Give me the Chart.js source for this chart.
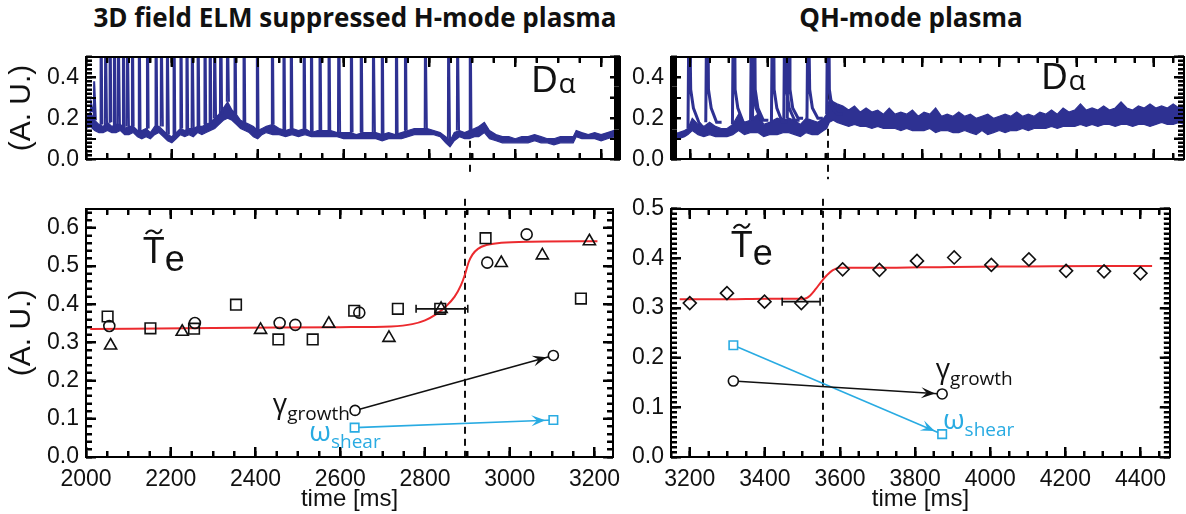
<!DOCTYPE html>
<html lang="en">
<head>
<meta charset="UTF-8">
<title>Te fluctuations and D-alpha, ELM suppressed vs QH-mode</title>
<script src="https://cdn.jsdelivr.net/npm/chart.js"></script>
<style>
    body {
        margin: 0;
        width: 1186px;
        height: 514px;
        position: relative;
        overflow: hidden;
        background: #fff;
    }
    canvas { position: absolute; }
    .title {
        position: absolute;
        top: -1px;
        font-family: "Open Sans", sans-serif;
        font-weight: 700;
        font-size: 26px;
        color: #111;
        white-space: nowrap;
        transform: translateX(-50%);
    }
</style>
</head>
<body>

<div class="title" style="left:355px">3D field ELM suppressed H-mode plasma</div>
<div class="title" style="left:911px">QH-mode plasma</div>

<canvas id="tl" width="640" height="164" style="left:0;top:26px"></canvas>
<canvas id="tr" width="562" height="164" style="left:624px;top:26px"></canvas>
<canvas id="bl" width="640" height="336" style="left:0;top:178px"></canvas>
<canvas id="br" width="562" height="336" style="left:624px;top:178px"></canvas>

<script>
// ---------- D-alpha, 3D field ELM suppressed shot ----------
const daLeftTime = [2000, 2010, 2020, 2030, 2040, 2050, 2060, 2070, 2080, 2090, 2100, 2110, 2120, 2130, 2140, 2150,
    2160, 2170, 2180, 2190, 2200, 2210, 2220, 2230, 2240, 2250, 2260, 2270, 2280, 2290, 2300, 2310, 2320, 2330,
    2340, 2350, 2360, 2370, 2380, 2390, 2400, 2410, 2420, 2435, 2450, 2465, 2480, 2495, 2510, 2525, 2540, 2555,
    2570, 2585, 2600, 2615, 2630, 2645, 2660, 2675, 2690, 2705, 2720, 2735, 2750, 2765, 2780, 2795, 2810, 2825,
    2838, 2848, 2858, 2870, 2882, 2893, 2905, 2915, 2928, 2940, 2955, 2970, 2985, 3000, 3015, 3030, 3045, 3060,
    3075, 3090, 3105, 3120, 3135, 3142, 3155, 3170, 3185, 3200, 3215, 3230, 3245];
const daLeftLow = [0.15, 0.16, 0.14, 0.13, 0.13, 0.14, 0.13, 0.13, 0.14, 0.12, 0.12, 0.13, 0.11, 0.10, 0.11, 0.10,
    0.12, 0.13, 0.11, 0.09, 0.08, 0.10, 0.12, 0.11, 0.12, 0.11, 0.13, 0.12, 0.13, 0.14, 0.15, 0.17, 0.19, 0.20,
    0.19, 0.17, 0.15, 0.14, 0.13, 0.11, 0.10, 0.12, 0.13, 0.12, 0.12, 0.11, 0.12, 0.11, 0.12, 0.11, 0.11, 0.11,
    0.11, 0.11, 0.10, 0.10, 0.10, 0.10, 0.10, 0.10, 0.09, 0.10, 0.10, 0.10, 0.11, 0.12, 0.12, 0.12, 0.12, 0.11,
    0.08, 0.06, 0.09, 0.11, 0.10, 0.10, 0.11, 0.11, 0.13, 0.10, 0.09, 0.08, 0.08, 0.08, 0.08, 0.08, 0.09, 0.08,
    0.08, 0.07, 0.08, 0.08, 0.08, 0.11, 0.10, 0.10, 0.10, 0.09, 0.10, 0.11, 0.10];
const daLeftHigh = [0.20, 0.23, 0.19, 0.17, 0.16, 0.18, 0.16, 0.17, 0.17, 0.15, 0.16, 0.16, 0.14, 0.14, 0.15, 0.13,
    0.16, 0.16, 0.14, 0.12, 0.11, 0.13, 0.15, 0.14, 0.15, 0.15, 0.16, 0.16, 0.17, 0.18, 0.20, 0.22, 0.25, 0.28,
    0.24, 0.22, 0.19, 0.18, 0.17, 0.16, 0.14, 0.15, 0.16, 0.17, 0.15, 0.14, 0.15, 0.14, 0.15, 0.13, 0.14, 0.14,
    0.14, 0.13, 0.13, 0.13, 0.12, 0.13, 0.13, 0.13, 0.12, 0.13, 0.12, 0.13, 0.14, 0.15, 0.15, 0.15, 0.14, 0.13,
    0.11, 0.09, 0.13, 0.14, 0.13, 0.14, 0.15, 0.16, 0.18, 0.14, 0.12, 0.11, 0.11, 0.10, 0.11, 0.11, 0.12, 0.11,
    0.10, 0.10, 0.11, 0.11, 0.11, 0.14, 0.13, 0.12, 0.13, 0.12, 0.13, 0.14, 0.12];
const daLeftElmTime = [2012, 2019, 2034, 2045, 2055, 2065, 2075, 2086, 2096, 2107, 2123, 2142, 2162, 2175, 2189,
    2204, 2220, 2234, 2247, 2260, 2276, 2288, 2299, 2313, 2329, 2346, 2367, 2398, 2433, 2460, 2477, 2507, 2524,
    2544, 2565, 2588, 2617, 2640, 2669, 2689, 2722, 2743, 2790, 2844, 2865, 2894];
const daLeftElmPeak = [0.27, 0.38, 0.9, 0.9, 0.9, 0.9, 0.9, 0.9, 0.9, 0.9, 0.9, 0.9, 0.9, 0.9, 0.9,
    0.9, 0.9, 0.9, 0.9, 0.9, 0.9, 0.9, 0.9, 0.9, 0.9, 0.9, 0.9, 0.9, 0.9, 0.9, 0.9, 0.9, 0.9,
    0.9, 0.9, 0.9, 0.9, 0.9, 0.9, 0.9, 0.9, 0.9, 0.9, 0.9, 0.9, 0.9];

// ---------- D-alpha, QH-mode shot ----------
const daRightTime = [3150, 3170, 3185, 3194, 3205, 3220, 3235, 3250, 3265, 3280, 3295, 3310, 3325, 3340, 3355,
    3375, 3390, 3405, 3425, 3440, 3455, 3470, 3485, 3500, 3515, 3530, 3545, 3553,
    3560, 3570, 3580, 3595, 3610, 3625, 3640, 3655, 3670, 3685, 3700, 3715, 3730, 3745, 3760, 3775, 3790, 3805,
    3820, 3835, 3850, 3865, 3880, 3895, 3910, 3925, 3940, 3955, 3970, 3985, 4000, 4015, 4030, 4045, 4060, 4075,
    4090, 4105, 4120, 4135, 4150, 4165, 4180, 4195, 4210, 4225, 4240, 4255, 4270, 4285, 4300, 4315, 4330, 4345,
    4360, 4375, 4390, 4405, 4420, 4435, 4450, 4465, 4478];
const daRightLow = [0.10, 0.10, 0.11, 0.12, 0.14, 0.12, 0.11, 0.12, 0.11, 0.11, 0.11, 0.12, 0.14, 0.12, 0.13,
    0.13, 0.11, 0.12, 0.12, 0.13, 0.13, 0.12, 0.11, 0.13, 0.12, 0.12, 0.14, 0.15,
    0.18, 0.19, 0.18, 0.17, 0.16, 0.17, 0.16, 0.16, 0.15, 0.16, 0.15, 0.15, 0.15, 0.14, 0.15, 0.14, 0.14, 0.14,
    0.15, 0.13, 0.14, 0.14, 0.13, 0.13, 0.14, 0.13, 0.12, 0.14, 0.12, 0.13, 0.14, 0.13, 0.14, 0.14, 0.15, 0.14,
    0.15, 0.15, 0.15, 0.16, 0.15, 0.16, 0.16, 0.16, 0.17, 0.16, 0.17, 0.16, 0.17, 0.17, 0.16, 0.17, 0.17, 0.16,
    0.17, 0.17, 0.16, 0.17, 0.18, 0.17, 0.17, 0.18, 0.17];
const daRightHigh = [0.12, 0.13, 0.14, 0.15, 0.20, 0.17, 0.16, 0.18, 0.16, 0.15, 0.15, 0.17, 0.22, 0.18, 0.19,
    0.22, 0.17, 0.18, 0.20, 0.19, 0.20, 0.19, 0.17, 0.20, 0.19, 0.18, 0.20, 0.22,
    0.30, 0.28, 0.27, 0.26, 0.24, 0.26, 0.23, 0.25, 0.23, 0.24, 0.22, 0.25, 0.22, 0.23, 0.22, 0.24, 0.21, 0.23,
    0.22, 0.25, 0.21, 0.22, 0.21, 0.23, 0.21, 0.22, 0.20, 0.21, 0.22, 0.20, 0.21, 0.22, 0.21, 0.23, 0.21, 0.22,
    0.21, 0.23, 0.22, 0.24, 0.22, 0.25, 0.23, 0.24, 0.27, 0.24, 0.25, 0.24, 0.26, 0.24, 0.25, 0.28, 0.25, 0.24,
    0.26, 0.25, 0.27, 0.25, 0.26, 0.25, 0.27, 0.25, 0.26];
const daRightElmTime = [3197, 3243, 3312, 3359, 3364, 3413, 3445, 3454, 3505, 3556];
// shape of one QH-phase ELM as read from the first one (ms after onset, level)
const qhElmDt = [-3, 0, 2, 4, 11, 25, 38];
const qhElmV = [0.15, 0.9, 0.9, 0.34, 0.25, 0.18, 0.15];

// ---------- Te fluctuation, ELM suppressed shot ----------
const teLeftSqT = [2051, 2152, 2255, 2354, 2454, 2535, 2633, 2736, 2836, 2943, 3168];
const teLeftSqV = [0.368, 0.337, 0.336, 0.399, 0.308, 0.308, 0.383, 0.388, 0.388, 0.573, 0.415];
const teLeftCircT = [2055, 2257, 2457, 2494, 2645, 2947, 3040];
const teLeftCircV = [0.343, 0.351, 0.351, 0.346, 0.378, 0.509, 0.583];
const teLeftTriT = [2058, 2227, 2412, 2573, 2715, 2838, 2980, 3077, 3188];
const teLeftTriV = [0.292, 0.328, 0.333, 0.349, 0.312, 0.388, 0.508, 0.528, 0.565];
const fitLeftT = [2010, 2300, 2600, 2720, 2770, 2800, 2825, 2850, 2870, 2885, 2895, 2903, 2912, 2925, 2945, 2980, 3050, 3207];
const fitLeftV = [0.335, 0.338, 0.340, 0.342, 0.348, 0.358, 0.373, 0.395, 0.420, 0.450, 0.480, 0.510, 0.530, 0.545, 0.555, 0.561, 0.564, 0.565];
const errLeftT = [2779, 2901];
const errLeftV = [0.388, 0.388];
const gammaLeftT = [2635, 3103];
const gammaLeftV = [0.122, 0.266];
const omegaLeftT = [2634, 3103];
const omegaLeftV = [0.077, 0.097];

// ---------- Te fluctuation, QH-mode shot ----------
const teRightT = [3200, 3299, 3399, 3497, 3607, 3705, 3805, 3904, 4003, 4103, 4202, 4303, 4400];
const teRightV = [0.310, 0.330, 0.313, 0.310, 0.378, 0.377, 0.395, 0.402, 0.387, 0.398, 0.375, 0.374, 0.370];
const fitRightT = [3173, 3300, 3400, 3505, 3520, 3535, 3550, 3565, 3580, 3600, 3700, 3900, 4100, 4300, 4431];
const fitRightV = [0.318, 0.318, 0.319, 0.319, 0.325, 0.338, 0.353, 0.366, 0.376, 0.381, 0.381, 0.383, 0.384, 0.385, 0.385];
const errRightT = [3446, 3547];
const errRightV = [0.313, 0.313];
const gammaRightT = [3316, 3872];
const gammaRightV = [0.153, 0.127];
const omegaRightT = [3316, 3872];
const omegaRightV = [0.225, 0.046];

const transitionLeft = 2895;
const transitionRight = 3556;

const NAVY = '#2e3192';
const RED = '#ec2a2e';
const CYAN = '#29abe2';

Chart.defaults.font.family = '"Liberation Sans", Arial, sans-serif';
Chart.defaults.font.size = 23;
Chart.defaults.color = '#111';

const pts = (ts, vs) => ts.map((t, i) => ({ x: t, y: vs[i] }));

function nearest(ts, t) {
    let best = 0;
    ts.forEach((v, i) => { if (Math.abs(v - t) < Math.abs(ts[best] - t)) best = i; });
    return best;
}

// left ELMs: narrow spikes sitting on the band
const leftElmPts = [];
daLeftElmTime.forEach((t, i) => {
    const base = daLeftHigh[nearest(daLeftTime, t)];
    const pk = daLeftElmPeak[i];
    leftElmPts.push({ x: t - 1, y: base }, { x: t, y: pk }, { x: t + 1.5, y: pk }, { x: t + 4, y: base }, { x: t + 4, y: null });
});

// QH-phase ELMs with their decaying tail
const rightElmPts = [];
daRightElmTime.forEach(t => {
    const base = daRightHigh[nearest(daRightTime, t)];
    qhElmDt.forEach((dt, k) => rightElmPts.push({ x: t + dt, y: Math.max(qhElmV[k], base) }));
    rightElmPts.push({ x: t + 40, y: null });
});

// box frame with inward major/minor ticks on all four sides
function drawFrame(chart, c) {
    const ctx = chart.ctx, a = chart.chartArea;
    const xs = chart.scales.x, ys = chart.scales.y;
    const L = Math.round(a.left), R = Math.round(a.right), T = Math.round(a.top), B = Math.round(a.bottom);
    ctx.save();
    ctx.fillStyle = '#000';
    [[200, 10], [50, 6]].forEach(([step, len]) => {
        for (let v = c.xMin - (c.xMin % step) + step; v < c.xMax; v += step) {
            const px = Math.round(xs.getPixelForValue(v));
            if (px - L < 3 || R - px < 3) continue;
            ctx.fillRect(px - 1, B - len, 2, len);
            ctx.fillRect(px - 1, T, 2, len);
        }
    });
    [[0.1, 10, 'l'], [0.1, 10, 'r'], [c.yMinorLeft, 6, 'l'], [c.yMinorRight, 6, 'r']].forEach(([step, len, side]) => {
        const n = Math.round(c.yMax / step);
        for (let k = 1; k <= n; k++) {
            const py = Math.round(ys.getPixelForValue(k * step));
            if (py - T < 2) continue;
            if (side === 'l') ctx.fillRect(L, py - 1, len, 2);
            else ctx.fillRect(R - len, py - 1, len, 2);
        }
    });
    ctx.fillRect(L - 1, T - 1, R - L + 2, 2);
    ctx.fillRect(L - 1, B - 1, R - L + 2, 2);
    ctx.fillRect(L - 1, T - 1, 2, B - T + 2);
    ctx.fillRect(R - 1, T - 1, 2, B - T + 2);
    ctx.restore();
}

function makeFrame(c) {
    return { id: 'frameTicks', afterDraw(chart) { drawFrame(chart, c); } };
}

// dashed transition line, arrow heads, text labels
function makeDeco(c) {
    return {
        id: 'deco',
        beforeDatasetsDraw(chart) {
            const ctx = chart.ctx, a = chart.chartArea;
            const px = Math.round(chart.scales.x.getPixelForValue(c.dashT));
            ctx.save();
            ctx.fillStyle = '#111';
            for (let yy = a.top - c.dashUp; yy < a.bottom + c.dashDown; yy += 12) {
                ctx.fillRect(px - 1, yy, 2, Math.min(7, a.bottom + c.dashDown - yy));
            }
            ctx.restore();
        },
        afterDatasetsDraw(chart) {
            const ctx = chart.ctx, x = chart.scales.x, y = chart.scales.y;
            ctx.save();
            chart.data.datasets.forEach((ds, i) => {
                if (!ds.arrow) return;
                const el = chart.getDatasetMeta(i).data;
                const p0 = el[0], p1 = el[el.length - 1];
                const ang = Math.atan2(p1.y - p0.y, p1.x - p0.x);
                const co = Math.cos(ang), si = Math.sin(ang);
                const tx = p1.x - co * (ds.pointRadius + 2), ty = p1.y - si * (ds.pointRadius + 2);
                const L = 14, W = 5.5;
                ctx.fillStyle = ds.borderColor;
                ctx.beginPath();
                ctx.moveTo(tx, ty);
                ctx.lineTo(tx - co * L - si * W, ty - si * L + co * W);
                ctx.lineTo(tx - co * L * 0.6, ty - si * L * 0.6);
                ctx.lineTo(tx - co * L + si * W, ty - si * L - co * W);
                ctx.closePath();
                ctx.fill();
            });

            c.labels.forEach(lb => {
                let px = x.getPixelForValue(lb.t);
                const py = y.getPixelForValue(lb.v);
                ctx.fillStyle = lb.color || '#111';
                ctx.textBaseline = 'alphabetic';
                ctx.textAlign = 'left';
                lb.parts.forEach((p, k) => {
                    ctx.font = p.font;
                    const w = ctx.measureText(p.s).width;
                    ctx.fillText(p.s, px + (p.dx || 0), py + (p.dy || 0));
                    if (lb.tilde && k === 0) {
                        const cx = px + w / 2, ty = py - 31;
                        ctx.save();
                        ctx.strokeStyle = lb.color || '#111';
                        ctx.lineWidth = 2;
                        ctx.beginPath();
                        ctx.moveTo(cx - 8, ty + 2);
                        ctx.bezierCurveTo(cx - 4, ty - 4, cx, ty - 1, cx + 1, ty);
                        ctx.bezierCurveTo(cx + 3, ty + 2, cx + 6, ty + 2, cx + 8, ty - 3);
                        ctx.stroke();
                        ctx.restore();
                    }
                    px += w + (p.dx || 0);
                });
            });
            ctx.restore();
            drawFrame(chart, c);
        }
    };
}

// hidden helper axes whose only job is to draw inward tick marks (negative tickLength)
function tickAxis(axis, position, min, max, step, len) {
    return {
        type: 'linear', axis, position, min, max, weight: 0,
        ticks: { display: false, stepSize: step, includeBounds: false, autoSkip: false },
        grid: { display: true, drawOnChartArea: false, drawTicks: true, tickLength: -len, tickWidth: 2, tickColor: '#000' },
        border: { display: false },
        afterFit: s => { if (axis === 'x') s.height = 0; else s.width = 0; }
    };
}

function makeScales(c) {
    const inward = { display: true, drawOnChartArea: false, drawTicks: true, tickLength: -10, tickWidth: 2, tickColor: '#000' };
    return {
        x: {
            type: 'linear', min: c.xMin, max: c.xMax, weight: 1,
            grid: inward, border: { display: false },
            ticks: { display: c.xLabels, stepSize: 200, padding: 19, maxRotation: 0, autoSkip: false, includeBounds: false, callback: v => String(v) },
            title: { display: c.xLabels, text: 'time [ms]', font: { size: 24, weight: 'normal' }, padding: { top: 0, bottom: 0 } },
            afterFit: s => { s.height = c.xH; }
        },
        y: {
            type: 'linear', min: 0, max: c.yMax, weight: 1,
            grid: inward, border: { display: false },
            ticks: { stepSize: 0.1, padding: 17, includeBounds: false, callback: v => v.toFixed(1) },
            title: { display: c.yTitle, text: '(A. U.)', font: { size: 30, weight: 'normal' }, padding: { top: 4, bottom: 0 } },
            afterFit: s => { s.width = c.yW; }
        },
        xMinorB: tickAxis('x', 'bottom', c.xMin, c.xMax, 50, 6),
        xMajorT: tickAxis('x', 'top', c.xMin, c.xMax, 200, 10),
        xMinorT: tickAxis('x', 'top', c.xMin, c.xMax, 50, 6),
        yMinorL: tickAxis('y', 'left', 0, c.yMax, c.yMinorLeft, 6),
        yMajorR: tickAxis('y', 'right', 0, c.yMax, 0.1, 10),
        yMinorR: tickAxis('y', 'right', 0, c.yMax, c.yMinorRight, 6)
    };
}

function makeChart(id, c, datasets) {
    return new Chart(document.getElementById(id), {
        type: 'line',
        data: { datasets },
        options: {
            responsive: false,
            animation: false,
            devicePixelRatio: 1,
            layout: { padding: { top: c.padTop, right: c.padRight, left: 0, bottom: 0 } },
            scales: makeScales(c),
            plugins: { legend: { display: false }, tooltip: { enabled: false } }
        },
        plugins: [makeDeco(c), makeFrame(c)]
    });
}

function bandSets(ts, lo, hi, elms, elmWidth) {
    return [
        { data: elms, borderColor: NAVY, borderWidth: elmWidth, pointRadius: 0, spanGaps: false, fill: false },
        { data: pts(ts, lo), borderColor: NAVY, borderWidth: 1.2, pointRadius: 0, fill: false },
        { data: pts(ts, hi), borderColor: NAVY, borderWidth: 1.2, pointRadius: 0, fill: '-1', backgroundColor: NAVY }
    ];
}

const markerBase = { showLine: false, borderColor: '#111', backgroundColor: 'rgba(0,0,0,0)', pointBorderWidth: 1.6 };
const arrowSet = (ts, vs, color, style, r) => ({
    data: pts(ts, vs), arrow: true, borderColor: color, borderWidth: 1.6,
    pointStyle: style, pointRadius: r, pointBorderColor: color, pointBackgroundColor: '#fff', pointBorderWidth: 1.6
});
const errSet = (ts, vs) => ({
    data: pts(ts, vs), borderColor: '#111', borderWidth: 1.6,
    pointStyle: 'line', pointRotation: 90, pointRadius: 4, pointBorderColor: '#111', pointBorderWidth: 1.6
});
const fitSet = (ts, vs) => ({ data: pts(ts, vs), borderColor: RED, borderWidth: 2, pointRadius: 0, cubicInterpolationMode: 'monotone' });

const daLabel = (t, v) => ({ t, v, parts: [
    { s: 'D', font: '36px "Liberation Sans", Arial' },
    { s: '\u03b1', font: '28px "Open Sans", sans-serif', dx: 1, dy: 1 }
] });
const teLabel = (t, v) => ({ t, v, tilde: true, parts: [
    { s: 'T', font: '36px "Liberation Sans", Arial' },
    { s: 'e', font: '36px "Liberation Sans", Arial', dy: 8 }
] });
const subLabel = (t, v, g, sub, color) => ({ t, v, color, parts: [
    { s: g, font: '28px "Open Sans", sans-serif' },
    { s: sub, font: '19px "Open Sans", sans-serif', dy: 7 }
] });

makeChart('tl',
    { xMin: 2000, xMax: 3244, yMax: 0.5, yW: 86, xH: 17, padTop: 16, padRight: 20, xLabels: false, yTitle: true,
      dashT: transitionLeft, dashUp: 0, dashDown: 17, yMinorLeft: 0.02, yMinorRight: 0.01, labels: [daLabel(3038, 0.328)] },
    bandSets(daLeftTime, daLeftLow, daLeftHigh, leftElmPts, 2));

makeChart('tr',
    { xMin: 3150, xMax: 4478, yMax: 0.5, yW: 47, xH: 20, padTop: 15, padRight: 2, xLabels: false, yTitle: false,
      dashT: transitionRight, dashUp: 0, dashDown: 20, yMinorLeft: 0.01, yMinorRight: 0.02, labels: [daLabel(4109, 0.341)] },
    bandSets(daRightTime, daRightLow, daRightHigh, rightElmPts, 3));

makeChart('bl',
    { xMin: 2000, xMax: 3244, yMax: 0.65, yW: 86, xH: 57, padTop: 18, padRight: 20, xLabels: true, yTitle: true,
      dashT: transitionLeft, dashUp: 10, dashDown: 0, yMinorLeft: 0.02, yMinorRight: 0.02, labels: [
        teLabel(2134, 0.508),
        subLabel(2441, 0.115, '\u03b3', 'growth', '#111'),
        subLabel(2527, 0.042, '\u03c9', 'shear', CYAN)
      ] },
    [
        arrowSet(gammaLeftT, gammaLeftV, '#111', 'circle', 5),
        arrowSet(omegaLeftT, omegaLeftV, CYAN, 'rect', 6),
        errSet(errLeftT, errLeftV),
        { ...markerBase, data: pts(teLeftSqT, teLeftSqV), pointStyle: 'rect', pointRadius: 7.5 },
        { ...markerBase, data: pts(teLeftCircT, teLeftCircV), pointStyle: 'circle', pointRadius: 5.5 },
        { ...markerBase, data: pts(teLeftTriT, teLeftTriV), pointStyle: 'triangle', pointRadius: 7 },
        fitSet(fitLeftT, fitLeftV)
    ]);

makeChart('br',
    { xMin: 3150, xMax: 4478, yMax: 0.5, yW: 47, xH: 57, padTop: 18, padRight: 2, xLabels: true, yTitle: false,
      dashT: transitionRight, dashUp: 10, dashDown: 0, yMinorLeft: 0.01, yMinorRight: 0.01, labels: [
        teLabel(3309, 0.402),
        subLabel(3855, 0.159, '\u03b3', 'growth', '#111'),
        subLabel(3874, 0.056, '\u03c9', 'shear', CYAN)
      ] },
    [
        arrowSet(gammaRightT, gammaRightV, '#111', 'circle', 5),
        arrowSet(omegaRightT, omegaRightV, CYAN, 'rect', 6),
        errSet(errRightT, errRightV),
        { ...markerBase, data: pts(teRightT, teRightV), pointStyle: 'rectRot', pointRadius: 6.5 },
        fitSet(fitRightT, fitRightV)
    ]);
</script>
</body>
</html>
